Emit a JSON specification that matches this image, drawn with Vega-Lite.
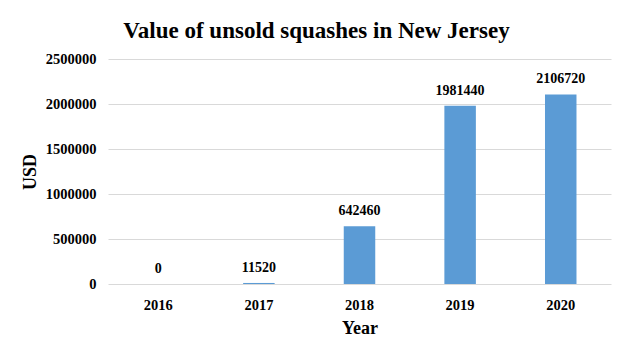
{
  "$schema": "https://vega.github.io/schema/vega-lite/v6.json",
  "autosize": {"type": "none"},
  "width": 503,
  "height": 225,
  "padding": {"left": 108, "top": 59, "right": 19, "bottom": 70},
  "background": "white",
  "config": {"view": {"stroke": null}, "font": "Liberation Serif"},
  "title": {
    "text": "Value of unsold squashes in New Jersey",
    "font": "Liberation Serif",
    "fontSize": 23,
    "fontWeight": "bold",
    "color": "#000000",
    "anchor": "middle",
    "dx": -43,
    "offset": 8
  },
  "data": {
    "values": [
      {"Year": "2016", "USD": 0},
      {"Year": "2017", "USD": 11520},
      {"Year": "2018", "USD": 642460},
      {"Year": "2019", "USD": 1981440},
      {"Year": "2020", "USD": 2106720}
    ]
  },
  "encoding": {
    "x": {
      "field": "Year",
      "type": "ordinal",
      "scale": {"paddingInner": 0.687, "paddingOuter": 0.343},
      "axis": {
        "title": "Year",
        "labelAngle": 0,
        "labelFont": "Liberation Serif",
        "labelFontSize": 14.5,
        "labelFontWeight": "bold",
        "labelColor": "#000000",
        "labelPadding": 14,
        "titleFont": "Liberation Serif",
        "titleFontSize": 18,
        "titleFontWeight": "bold",
        "titleColor": "#000000",
        "titlePadding": 8,
        "ticks": false,
        "domain": false
      }
    },
    "y": {
      "field": "USD",
      "type": "quantitative",
      "scale": {"domain": [0, 2500000]},
      "axis": {
        "title": "USD",
        "values": [0, 500000, 1000000, 1500000, 2000000, 2500000],
        "format": "d",
        "labelFont": "Liberation Serif",
        "labelFontSize": 14.5,
        "labelFontWeight": "bold",
        "labelColor": "#000000",
        "labelPadding": 12,
        "titleFont": "Liberation Serif",
        "titleFontSize": 18,
        "titleFontWeight": "bold",
        "titleColor": "#000000",
        "titlePadding": 6,
        "ticks": false,
        "domain": false,
        "grid": true,
        "gridColor": "#d9d9d9",
        "gridWidth": 1
      }
    }
  },
  "layer": [
    {"mark": {"type": "bar", "color": "#5b9bd5"}},
    {
      "mark": {"type": "text", "dy": -8, "font": "Liberation Serif", "fontSize": 14, "fontWeight": "bold", "color": "#000000", "baseline": "bottom"},
      "encoding": {"text": {"field": "USD", "type": "quantitative", "format": "d"}}
    }
  ]
}
